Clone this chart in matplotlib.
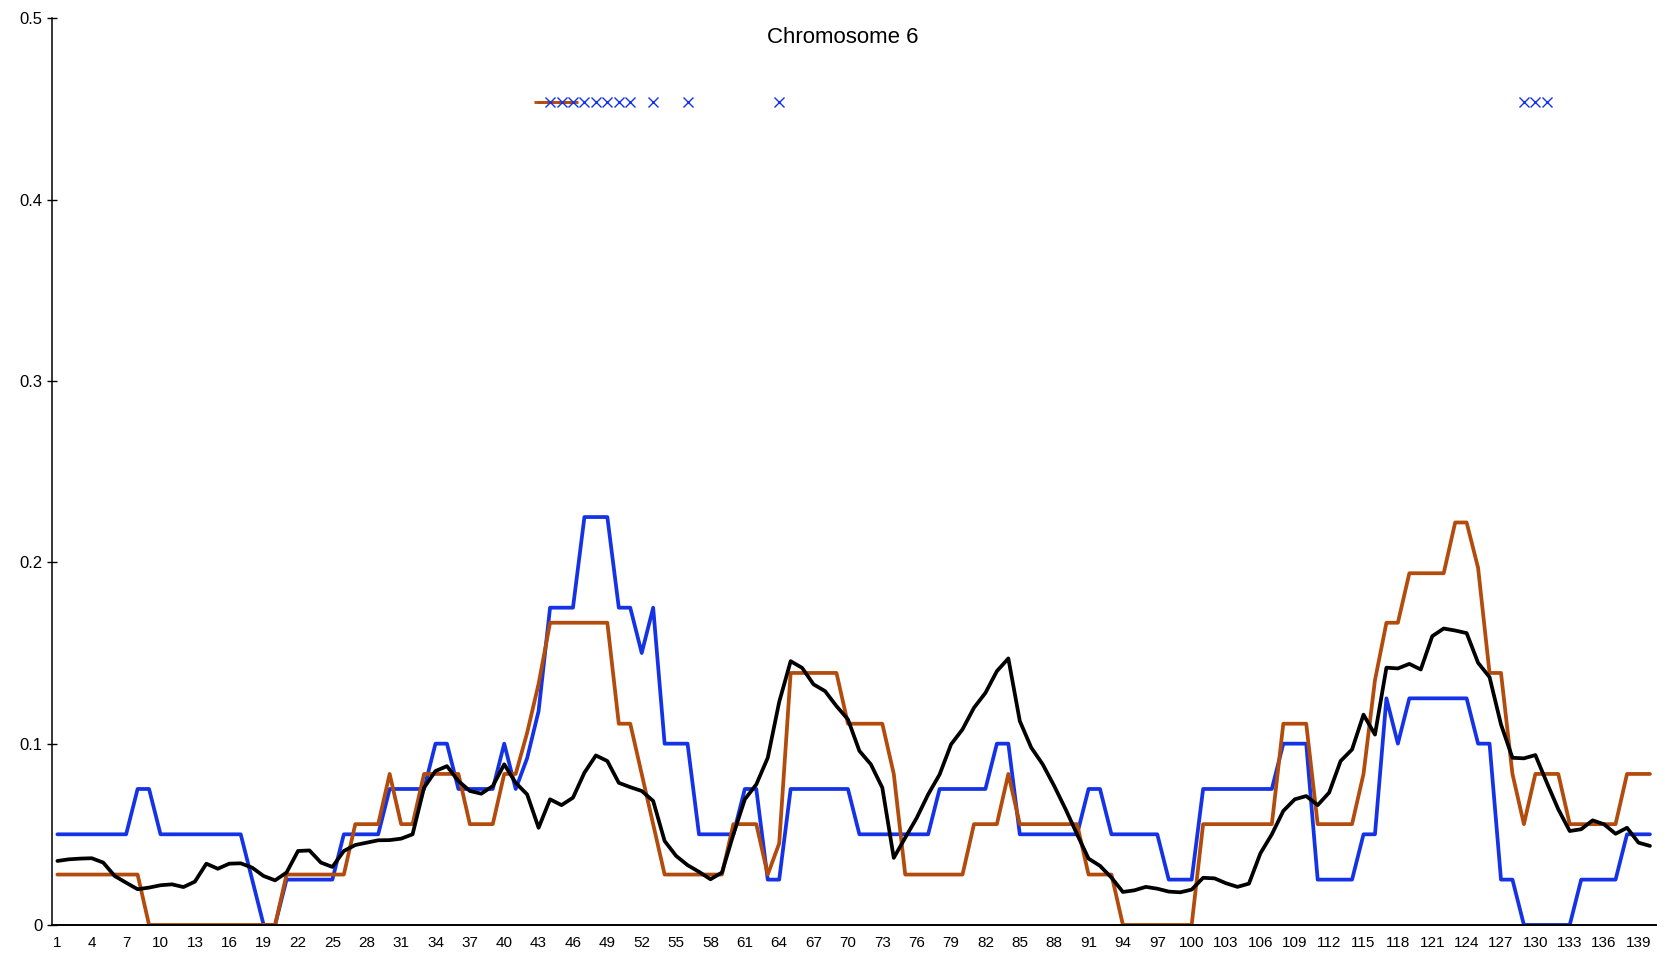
import numpy as np
import matplotlib
matplotlib.use('Agg')
import matplotlib.pyplot as plt

plt.rcParams['font.family'] = ['Liberation Sans', 'DejaVu Sans']

positions = list(range(1, 141))
tick_labels = [str(p) for p in range(1, 141, 3)]

blue = ([0.05] * 7 + [0.075] * 2 + [0.05] * 8 + [0.025] + [0] * 2 + [0.025] * 5
        + [0.05] * 4 + [0.075] * 4 + [0.1] * 2 + [0.075] * 4 + [0.1, 0.075, 0.092, 0.118]
        + [0.175] * 3 + [0.225] * 3 + [0.175] * 2 + [0.15, 0.175] + [0.1] * 3
        + [0.05] * 4 + [0.075] * 2 + [0.025] * 2 + [0.075] * 6 + [0.05] * 7
        + [0.075] * 5 + [0.1] * 2 + [0.05] * 6 + [0.075] * 2 + [0.05] * 5
        + [0.025] * 3 + [0.075] * 7 + [0.1] * 3 + [0.025] * 4 + [0.05] * 2
        + [0.125, 0.1] + [0.125] * 6 + [0.1] * 2 + [0.025] * 2 + [0] * 5
        + [0.025] * 4 + [0.05] * 3)

brown = ([0.0278] * 8 + [0] * 12 + [0.0278] * 6 + [0.0556] * 3 + [0.0833]
         + [0.0556] * 2 + [0.0833] * 4 + [0.0556] * 3 + [0.0833] * 2 + [0.106, 0.133]
         + [0.1667] * 6 + [0.111] * 2 + [0.0833, 0.0556] + [0.0278] * 6
         + [0.0556] * 3 + [0.0278, 0.045] + [0.139] * 5 + [0.111] * 4 + [0.0833]
         + [0.0278] * 6 + [0.0556] * 3 + [0.0833] + [0.0556] * 6 + [0.0278] * 3
         + [0] * 7 + [0.0556] * 7 + [0.111] * 3 + [0.0556] * 4 + [0.0833, 0.135]
         + [0.1667] * 2 + [0.194] * 4 + [0.222] * 2 + [0.197] + [0.139] * 2
         + [0.0833, 0.0556] + [0.0833] * 3 + [0.0556] * 5 + [0.0833] * 3)

black = [0.0353, 0.0362, 0.0366, 0.0368, 0.0344, 0.0270, 0.0233, 0.0197, 0.0206, 0.0219,
         0.0224, 0.0209, 0.0239, 0.0338, 0.0310, 0.0338, 0.0340, 0.0316, 0.0270, 0.0246,
         0.0289, 0.0408, 0.0411, 0.0344, 0.0320, 0.0408, 0.0441, 0.0454, 0.0467, 0.0468,
         0.0476, 0.0500, 0.0757, 0.0849, 0.0876, 0.0794, 0.0739, 0.0724, 0.0766, 0.0886,
         0.0784, 0.0720, 0.0536, 0.0693, 0.0661, 0.0702, 0.0840, 0.0935, 0.0904, 0.0784,
         0.0760, 0.0739, 0.0684, 0.0463, 0.0381, 0.0330, 0.0293, 0.0252, 0.0289, 0.0499,
         0.0693, 0.0775, 0.0922, 0.1230, 0.1455, 0.1418, 0.1327, 0.1290, 0.1207, 0.1134,
         0.0960, 0.0886, 0.0757, 0.0370, 0.0481, 0.0590, 0.0720, 0.0830, 0.0996, 0.1079,
         0.1198, 0.1280, 0.1400, 0.1470, 0.1125, 0.0978, 0.0886, 0.0767, 0.0638, 0.0500,
         0.0366, 0.0326, 0.0261, 0.0182, 0.0191, 0.0210, 0.0200, 0.0184, 0.0180, 0.0195,
         0.0260, 0.0257, 0.0230, 0.0210, 0.0228, 0.0395, 0.0500, 0.0629, 0.0693, 0.0711,
         0.0661, 0.0730, 0.0904, 0.0968, 0.1160, 0.1050, 0.1419, 0.1415, 0.1440, 0.1409,
         0.1593, 0.1635, 0.1624, 0.1610, 0.1446, 0.1367, 0.1106, 0.0922, 0.0919, 0.0937,
         0.0785, 0.0638, 0.0518, 0.0528, 0.0577, 0.0555, 0.0503, 0.0536, 0.0454, 0.0436]

# markers along the top
mark_pos = [44, 45, 46, 47, 48, 49, 50, 51, 53, 56, 64, 129, 130, 131]
mark_val = [0.454] * len(mark_pos)
seg_pos = [43, 44, 45, 46]
seg_val = [0.454] * len(seg_pos)

BLUE = '#1533e6'
BROWN = '#b24b0c'

fig = plt.figure(figsize=(16.67, 9.58), dpi=100)
ax = fig.add_axes([0.031, 0.0345, 0.9622, 0.9462])

style = dict(lw=2.7, solid_joinstyle='round', solid_capstyle='round')
ax.plot(positions, blue, color=BLUE, **style)
ax.plot(positions, brown, color=BROWN, **style)
ax.plot(positions, black, color='black', **style)
ax.plot(seg_pos, seg_val, color=BROWN, lw=2, marker='_', ms=7.5, mew=2)
ax.plot(mark_pos, mark_val, ls='none', marker='x', color=BLUE, ms=7, mew=1)

ax.set_xlim(0.5, 140.5)
ax.set_ylim(0, 0.5)
ax.set_xticks(range(1, 141, 3))
ax.set_xticklabels(tick_labels, fontsize=11)
ax.set_yticks([0, 0.1, 0.2, 0.3, 0.4, 0.5])
ax.set_yticklabels(['0', '0.1', '0.2', '0.3', '0.4', '0.5'], fontsize=12)
ax.tick_params(axis='x', length=0, pad=8)
ax.tick_params(axis='y', direction='inout', length=7, width=1, pad=3)

for side in ['top', 'right']:
    ax.spines[side].set_visible(False)
ax.spines['left'].set_linewidth(1.1)
ax.spines['bottom'].set_linewidth(1.4)

ax.text(0.493, 0.9795, 'Chromosome 6', transform=ax.transAxes,
        ha='center', va='center', fontsize=16)

fig.savefig('out.png', dpi=100)
